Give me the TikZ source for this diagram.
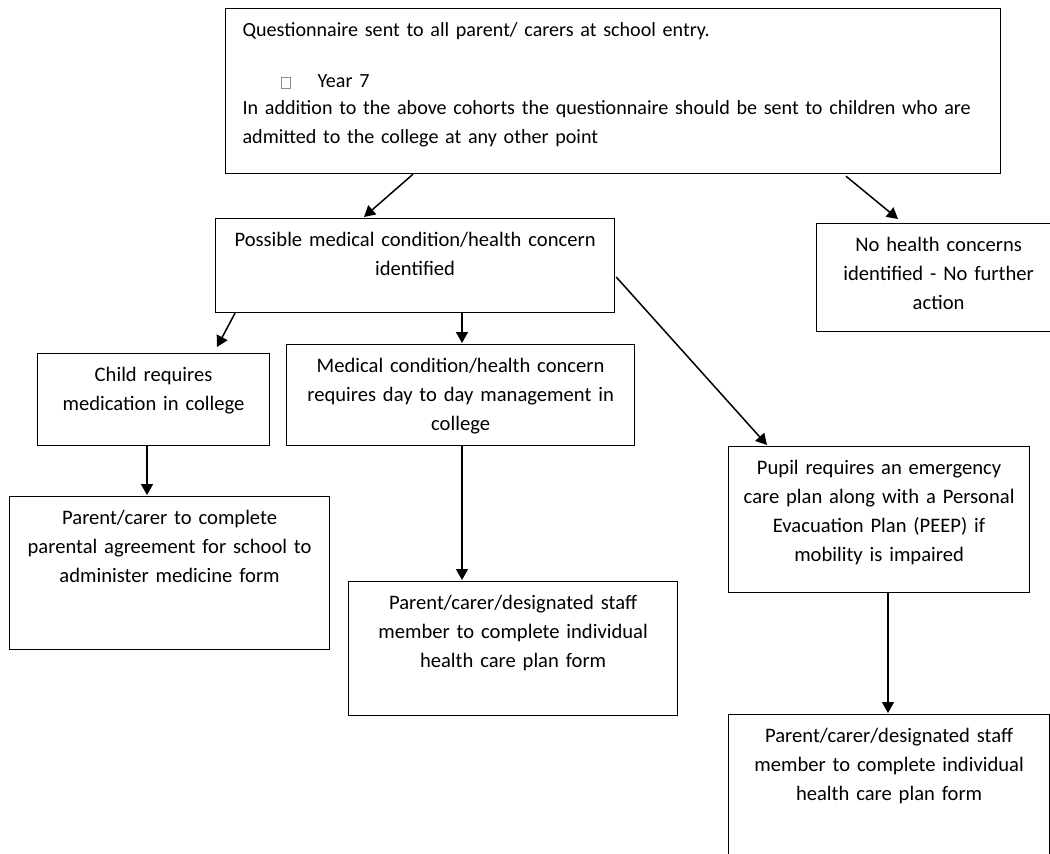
\documentclass[tikz,border=0pt]{standalone}
\usepackage{fontspec}
\setmainfont{Carlito}
\usepackage{tikz}
\usetikzlibrary{arrows.meta, calc}

\begin{document}
\begin{tikzpicture}[x=1pt, y=-1pt, font=\fontsize{20.6}{29}\selectfont,
                    box/.style={draw, line width=1.2pt, anchor=north west, inner sep=0pt, align=center, text height=28pt},
                    arr/.style={line width=1.5pt, -{Triangle[width=12pt, length=11pt]}}]
                    \useasboundingbox (0,0) rectangle (1050,854);

                    \node[box, align=left, font=\fontsize{20.1}{29}\selectfont, inner xsep=17pt, text width=741pt, text depth=137pt](qst) at (225,8) {Questionnaire sent to all parent/ carers at school entry.\\[22pt]
                        \hspace*{38pt}{\fboxsep=0pt\fboxrule=0.5pt\color{black!45}\fbox{\rule{0pt}{10pt}\hspace{9pt}}}\hspace*{27pt}Year 7\\[-2pt]
                        In addition to the above cohorts the questionnaire should be sent to children who are\\
                        admitted to the college at any other point};
                    \node[box, text width=244pt, text depth=80pt](noact) at (816,223) {No health concerns\\identified - No further\\action};
                    \node[box, text width=399pt, text depth=66pt](poss) at (215,218) {Possible medical condition/health concern\\identified};
                    \node[box, text width=232pt, text depth=64pt](meds) at (37,353) {Child requires\\medication in college};
                    \node[box, text width=348pt, text depth=73pt](daily) at (286,344) {Medical condition/health concern\\requires day to day management in\\college};
                    \node[box, text width=301pt, text depth=118pt](emerg) at (728,446) {Pupil requires an emergency\\care plan along with a Personal\\Evacuation Plan (PEEP) if\\mobility is impaired};
                    \node[box, text width=320pt, text depth=125pt](agree) at (9,496) {Parent/carer to complete\\parental agreement for school to\\administer medicine form};
                    \node[box, text width=329pt, text depth=106pt](hcp) at (348,581) {Parent/carer/designated staff\\member to complete individual\\health care plan form};
                    \node[box, text width=321pt, text depth=132pt](hcpe) at (728,714) {Parent/carer/designated staff\\member to complete individual\\health care plan form};

                    \draw[arr] ($(qst.south west)+(188,0)$) -- ($(poss.north west)+(149,-1)$);
                    \draw[arr] ($(qst.south west)+(621,2)$) -- ($(noact.north west)+(82,-4)$);
                    \draw[arr] ($(poss.south west)+(20,0)$) -- ($(meds.north west)+(180,-6)$);
                    \draw[arr] ($(poss.south west)+(247,0)$) -- ($(daily.north west)+(176,-1)$);
                    \draw[arr] ($(poss.north east)+(1,59)$) -- ($(emerg.north west)+(39,-1)$);
                    \draw[arr] ($(meds.south west)+(110,0)$) -- ($(agree.north west)+(138,-1)$);
                    \draw[arr] ($(daily.south west)+(176,0)$) -- ($(hcp.north west)+(114,-1)$);
                    \draw[arr] ($(emerg.south west)+(160,0)$) -- ($(hcpe.north west)+(160,-1)$);
                \end{tikzpicture}
\end{document}
